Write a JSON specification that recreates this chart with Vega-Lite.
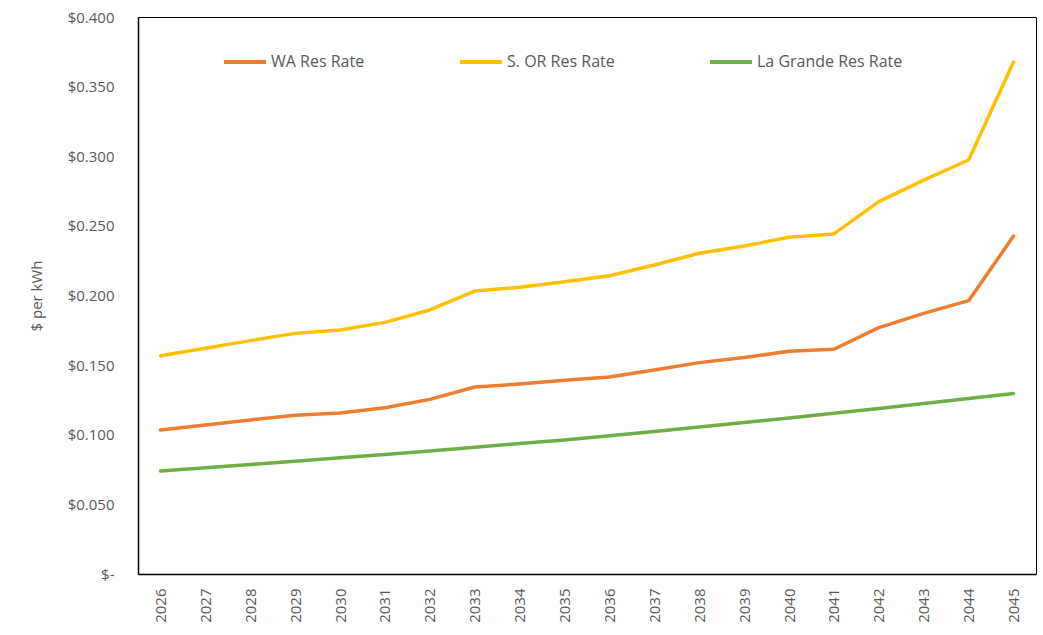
{
  "$schema": "https://vega.github.io/schema/vega-lite/v6.json",
  "width": 898,
  "height": 557,
  "autosize": {"type": "none"},
  "padding": {"left": 138, "top": 17, "right": 7, "bottom": 61},
  "background": "white",
  "config": {
    "view": {"stroke": "#000000", "strokeWidth": 1},
    "font": "Open Sans"
  },
  "data": {
    "values": [
      {"year": "2026", "series": "WA Res Rate", "rate": 0.1034},
      {"year": "2027", "series": "WA Res Rate", "rate": 0.1070},
      {"year": "2028", "series": "WA Res Rate", "rate": 0.1106},
      {"year": "2029", "series": "WA Res Rate", "rate": 0.1140},
      {"year": "2030", "series": "WA Res Rate", "rate": 0.1156},
      {"year": "2031", "series": "WA Res Rate", "rate": 0.1194},
      {"year": "2032", "series": "WA Res Rate", "rate": 0.1254},
      {"year": "2033", "series": "WA Res Rate", "rate": 0.1343},
      {"year": "2034", "series": "WA Res Rate", "rate": 0.1364},
      {"year": "2035", "series": "WA Res Rate", "rate": 0.1391},
      {"year": "2036", "series": "WA Res Rate", "rate": 0.1415},
      {"year": "2037", "series": "WA Res Rate", "rate": 0.1465},
      {"year": "2038", "series": "WA Res Rate", "rate": 0.1518},
      {"year": "2039", "series": "WA Res Rate", "rate": 0.1554},
      {"year": "2040", "series": "WA Res Rate", "rate": 0.1599},
      {"year": "2041", "series": "WA Res Rate", "rate": 0.1614},
      {"year": "2042", "series": "WA Res Rate", "rate": 0.1769},
      {"year": "2043", "series": "WA Res Rate", "rate": 0.1872},
      {"year": "2044", "series": "WA Res Rate", "rate": 0.1963},
      {"year": "2045", "series": "WA Res Rate", "rate": 0.2427},
      {"year": "2026", "series": "S. OR Res Rate", "rate": 0.1568},
      {"year": "2027", "series": "S. OR Res Rate", "rate": 0.1621},
      {"year": "2028", "series": "S. OR Res Rate", "rate": 0.1676},
      {"year": "2029", "series": "S. OR Res Rate", "rate": 0.1728},
      {"year": "2030", "series": "S. OR Res Rate", "rate": 0.1752},
      {"year": "2031", "series": "S. OR Res Rate", "rate": 0.1807},
      {"year": "2032", "series": "S. OR Res Rate", "rate": 0.1896},
      {"year": "2033", "series": "S. OR Res Rate", "rate": 0.2032},
      {"year": "2034", "series": "S. OR Res Rate", "rate": 0.2059},
      {"year": "2035", "series": "S. OR Res Rate", "rate": 0.2099},
      {"year": "2036", "series": "S. OR Res Rate", "rate": 0.2142},
      {"year": "2037", "series": "S. OR Res Rate", "rate": 0.2219},
      {"year": "2038", "series": "S. OR Res Rate", "rate": 0.2303},
      {"year": "2039", "series": "S. OR Res Rate", "rate": 0.2355},
      {"year": "2040", "series": "S. OR Res Rate", "rate": 0.2418},
      {"year": "2041", "series": "S. OR Res Rate", "rate": 0.2442},
      {"year": "2042", "series": "S. OR Res Rate", "rate": 0.2674},
      {"year": "2043", "series": "S. OR Res Rate", "rate": 0.2829},
      {"year": "2044", "series": "S. OR Res Rate", "rate": 0.2973},
      {"year": "2045", "series": "S. OR Res Rate", "rate": 0.3677},
      {"year": "2026", "series": "La Grande Res Rate", "rate": 0.0740},
      {"year": "2027", "series": "La Grande Res Rate", "rate": 0.0763},
      {"year": "2028", "series": "La Grande Res Rate", "rate": 0.0786},
      {"year": "2029", "series": "La Grande Res Rate", "rate": 0.0810},
      {"year": "2030", "series": "La Grande Res Rate", "rate": 0.0834},
      {"year": "2031", "series": "La Grande Res Rate", "rate": 0.0859},
      {"year": "2032", "series": "La Grande Res Rate", "rate": 0.0884},
      {"year": "2033", "series": "La Grande Res Rate", "rate": 0.0910},
      {"year": "2034", "series": "La Grande Res Rate", "rate": 0.0937},
      {"year": "2035", "series": "La Grande Res Rate", "rate": 0.0962},
      {"year": "2036", "series": "La Grande Res Rate", "rate": 0.0993},
      {"year": "2037", "series": "La Grande Res Rate", "rate": 0.1024},
      {"year": "2038", "series": "La Grande Res Rate", "rate": 0.1056},
      {"year": "2039", "series": "La Grande Res Rate", "rate": 0.1088},
      {"year": "2040", "series": "La Grande Res Rate", "rate": 0.1120},
      {"year": "2041", "series": "La Grande Res Rate", "rate": 0.1154},
      {"year": "2042", "series": "La Grande Res Rate", "rate": 0.1189},
      {"year": "2043", "series": "La Grande Res Rate", "rate": 0.1225},
      {"year": "2044", "series": "La Grande Res Rate", "rate": 0.1261},
      {"year": "2045", "series": "La Grande Res Rate", "rate": 0.1297}
    ]
  },
  "mark": {"type": "line", "strokeWidth": 3.5, "strokeCap": "round", "strokeJoin": "round"},
  "encoding": {
    "x": {
      "field": "year",
      "type": "ordinal",
      "scale": {"type": "point", "padding": 0.5},
      "axis": {
        "title": null,
        "labelAngle": -90,
        "labelAlign": "right",
        "labelBaseline": "middle",
        "labelPadding": 14,
        "labelFontSize": 15,
        "labelColor": "#595959",
        "ticks": false,
        "domain": true,
        "domainColor": "#000000",
        "domainWidth": 1.5,
        "grid": false
      }
    },
    "y": {
      "field": "rate",
      "type": "quantitative",
      "scale": {"domain": [0, 0.4], "nice": false},
      "axis": {
        "title": "$ per kWh",
        "titleFontSize": 15,
        "titleFontWeight": "normal",
        "titleColor": "#595959",
        "titlePadding": 23,
        "values": [0, 0.05, 0.1, 0.15, 0.2, 0.25, 0.3, 0.35, 0.4],
        "labelExpr": "datum.value == 0 ? '$-' : '$' + format(datum.value, '.3f')",
        "labelFontSize": 15,
        "labelColor": "#595959",
        "labelPadding": 24,
        "ticks": false,
        "domain": true,
        "domainColor": "#000000",
        "domainWidth": 1.5,
        "grid": false
      }
    },
    "color": {
      "field": "series",
      "type": "nominal",
      "sort": ["WA Res Rate", "S. OR Res Rate", "La Grande Res Rate"],
      "scale": {
        "domain": ["WA Res Rate", "S. OR Res Rate", "La Grande Res Rate"],
        "range": ["#ED7D31", "#FFC000", "#70AD47"]
      },
      "legend": {
        "title": null,
        "orient": "none",
        "direction": "horizontal",
        "legendX": 84,
        "legendY": 22,
        "symbolType": "stroke",
        "symbolSize": 1764,
        "symbolStrokeWidth": 4,
        "symbolOffset": 0,
        "labelOffset": 3,
        "labelFontSize": 16,
        "labelColor": "#595959",
        "columnPadding": 87,
        "labelLimit": 300
      }
    }
  }
}
